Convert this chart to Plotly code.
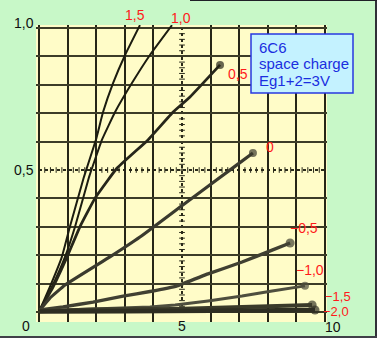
import plotly.graph_objects as go

# ---- data: plate voltage (x) vs plate current (y), one curve per grid voltage ----
curve_names = ["1,5", "1,0", "0,5", "0", "−0,5", "−1,0", "−1,5", "−2,0"]

x_g15 = [0.03, 0.38, 0.80, 1.08, 1.57, 1.99, 2.24, 2.59, 3.01, 3.53]
y_g15 = [0.007, 0.088, 0.194, 0.300, 0.475, 0.606, 0.704, 0.806, 0.905, 1.010]

x_g10 = [0.03, 0.45, 0.91, 1.26, 1.75, 2.20, 2.66, 3.25, 3.88, 4.65]
y_g10 = [0.007, 0.088, 0.194, 0.300, 0.475, 0.606, 0.704, 0.806, 0.905, 1.010]

x_g05 = [0.03, 0.49, 0.98, 1.43, 1.96, 2.73, 3.81, 4.69, 5.28, 6.33]
y_g05 = [0.007, 0.088, 0.194, 0.300, 0.401, 0.507, 0.606, 0.704, 0.757, 0.870]

x_g0 = [0.03, 0.38, 0.91, 2.48, 3.53, 5.03, 6.92, 7.48]
y_g0 = [0.007, 0.049, 0.095, 0.194, 0.264, 0.377, 0.518, 0.560]

x_gm05 = [0.03, 0.84, 1.89, 2.94, 3.88, 4.83, 5.91, 7.10, 8.15, 8.78]
y_gm05 = [0.007, 0.018, 0.035, 0.056, 0.072, 0.092, 0.134, 0.176, 0.218, 0.243]

x_gm10 = [0.03, 1.89, 3.88, 4.76, 5.91, 7.10, 8.15, 9.30]
y_gm10 = [0.004, 0.011, 0.018, 0.025, 0.039, 0.056, 0.074, 0.092]

x_gm15 = [0.03, 1.89, 4.76, 7.10, 9.55]
y_gm15 = [0.003, 0.009, 0.011, 0.018, 0.025]

x_gm20 = [0.03, 3.0, 6.0, 9.65]
y_gm20 = [0.002, 0.003, 0.004, 0.007]

# axis tick labels
ytick_text = ["1,0", "0,5"]
xtick_text = ["0", "5", "10"]

info_lines = ["6C6", "space charge", "Eg1+2=3V"]

# ---- styling / layout ----
series = [
    (x_g15, y_g15, "#1c1c10", 2.0, 0),
    (x_g10, y_g10, "#1c1c10", 2.0, 0),
    (x_g05, y_g05, "#26261a", 2.8, 8),
    (x_g0, y_g0, "#3a3a2e", 3.2, 8),
    (x_gm05, y_gm05, "#404032", 3.4, 9),
    (x_gm10, y_gm10, "#4e4e3e", 3.0, 8),
    (x_gm15, y_gm15, "#3a3a2a", 4.0, 9),
    (x_gm20, y_gm20, "#2e2e22", 4.5, 9),
]

fig = go.Figure()
for xs, ys, col, w, endsize in series:
    sizes = [0] * (len(xs) - 1) + [endsize]
    fig.add_trace(go.Scatter(
        x=xs, y=ys, mode="lines+markers",
        line=dict(color=col, width=w, shape="spline", smoothing=0.3),
        marker=dict(color=col, size=sizes, line=dict(width=0)),
        showlegend=False, hoverinfo="skip",
    ))

W, H = 377, 338
L, R, T, B = 36, 50, 25, 16
px_per_x = 28.6
px_per_y = 284.0
x0 = -(39 - L) / px_per_x
x1 = x0 + (W - L - R) / px_per_x
y0 = -(322 - 312) / px_per_y
y1 = y0 + (H - T - B) / px_per_y

pw = W - L - R
ph = H - T - B
def pxp(px):
    return (px - L) / pw
def pyp(py):
    return (H - B - py) / ph

shapes = []
# center dotted lines with ruler ticks
shapes.append(dict(type="line", xref="x", yref="y", x0=5, x1=5, y0=0, y1=1,
                   line=dict(color="#2a2a1a", width=2, dash="dot"), layer="below"))
shapes.append(dict(type="line", xref="x", yref="y", x0=0, x1=10, y0=0.5, y1=0.5,
                   line=dict(color="#2a2a1a", width=2, dash="dot"), layer="below"))
for i in range(51):
    yy = i * 0.02
    shapes.append(dict(type="line", xref="x", yref="y", x0=4.9, x1=5.1, y0=yy, y1=yy,
                       line=dict(color="#2a2a1a", width=1), layer="below"))
    xx = i * 0.2
    shapes.append(dict(type="line", xref="x", yref="y", x0=xx, x1=xx, y0=0.49, y1=0.51,
                       line=dict(color="#2a2a1a", width=1), layer="below"))

# info box
shapes.append(dict(type="rect", xref="paper", yref="paper",
                   x0=pxp(251), x1=pxp(353), y0=pyp(93), y1=pyp(34),
                   fillcolor="#c4f2ff", line=dict(color="#2838e0", width=1.5), layer="above"))
# outer frame (right, bottom, top)
shapes.append(dict(type="line", xref="paper", yref="paper", x0=pxp(376), x1=pxp(376),
                   y0=pyp(0), y1=pyp(338), line=dict(color="#303038", width=2)))
shapes.append(dict(type="line", xref="paper", yref="paper", x0=pxp(0), x1=pxp(377),
                   y0=pyp(337), y1=pyp(337), line=dict(color="#404048", width=2)))
shapes.append(dict(type="line", xref="paper", yref="paper", x0=pxp(190), x1=pxp(377),
                   y0=pyp(0.5), y1=pyp(0.5), line=dict(color="#202028", width=1)))

annotations = []
FONT = "Liberation Sans, Arial, sans-serif"
font_axis = dict(family=FONT, size=14, color="#101010")
font_info = dict(family=FONT, size=15, color="#1a2ee0")

# curve-name label centres in pixels and sizes
red_pos = [(135, 15), (181, 18), (238, 74), (270, 147),
           (304, 228), (310, 270), (338, 296), (336, 311)]
red_size = [14, 14, 14, 14, 14, 14, 13, 13]
for name, (px, py), fs in zip(curve_names, red_pos, red_size):
    annotations.append(dict(x=pxp(px), y=pyp(py), xref="paper", yref="paper", text=name,
                            showarrow=False, font=dict(family=FONT, size=fs, color="#ff1a1a"),
                            xanchor="center", yanchor="middle", borderpad=0))
ytick_pos = [(24, 23), (24, 170)]
for t, (px, py) in zip(ytick_text, ytick_pos):
    annotations.append(dict(x=pxp(px), y=pyp(py), xref="paper", yref="paper", text=t,
                            showarrow=False, font=font_axis, xanchor="center", yanchor="middle",
                            borderpad=0))
xtick_pos = [(26, 326), (182, 326), (333, 327)]
for t, (px, py) in zip(xtick_text, xtick_pos):
    annotations.append(dict(x=pxp(px), y=pyp(py), xref="paper", yref="paper", text=t,
                            showarrow=False, font=font_axis, xanchor="center", yanchor="middle",
                            borderpad=0))
for i, line in enumerate(info_lines):
    annotations.append(dict(x=pxp(257), y=pyp(47 + 16.5 * i), xref="paper", yref="paper",
                            text=line, showarrow=False, font=font_info,
                            xanchor="left", yanchor="middle"))

fig.update_layout(
    width=W, height=H,
    margin=dict(l=L, r=R, t=T, b=B, pad=0),
    paper_bgcolor="#c8f8c8",
    plot_bgcolor="#fffcc8",
    shapes=shapes,
    annotations=annotations,
    xaxis=dict(range=[x0, x1], tickvals=[0, 1, 2, 3, 4, 6, 7, 8, 9, 10],
               showticklabels=False, ticks="", showgrid=True, gridcolor="#262618",
               gridwidth=2, zeroline=False, showline=False, fixedrange=True),
    yaxis=dict(range=[y0, y1], tickvals=[0, 0.1, 0.2, 0.3, 0.4, 0.6, 0.7, 0.8, 0.9, 1.0],
               showticklabels=False, ticks="", showgrid=True, gridcolor="#3c3c28",
               gridwidth=1.5, zeroline=False, showline=False, fixedrange=True),
)

fig.write_html("out.html", config={"displayModeBar": False})
